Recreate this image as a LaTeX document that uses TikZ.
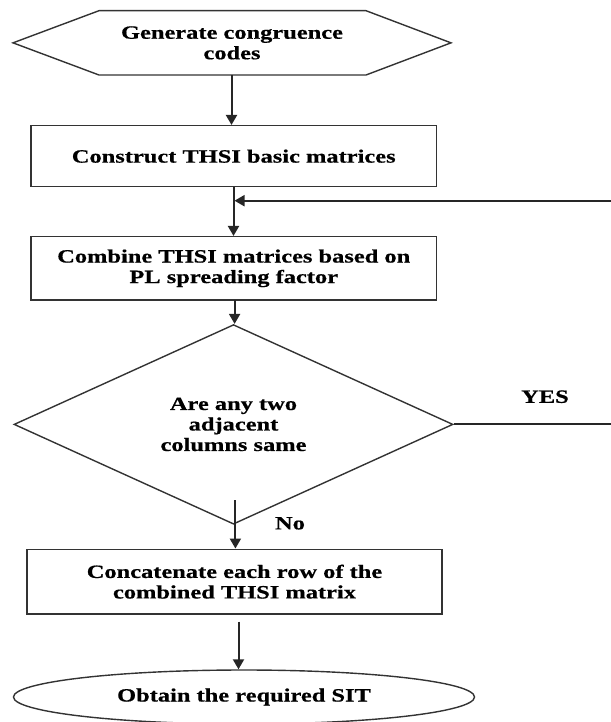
\documentclass[tikz,border=0pt]{standalone}
\usepackage{fontspec}
\setmainfont[FakeStretch=1.3,FakeBold=0.6]{Liberation Serif}
\usetikzlibrary{shapes.geometric,arrows.meta,calc}
\tikzset{
  flowtxt/.style={font=\bfseries\fontsize{18.8}{20.5}\selectfont, align=center, text=black},
  procbox/.style={draw=black!80, line width=1.5pt, rectangle, inner sep=0pt, flowtxt},
  decbox/.style={draw=black!80, line width=1.4pt, diamond, inner sep=0pt, flowtxt},
  termbox/.style={draw=black!80, line width=1.4pt, ellipse, inner sep=0pt, flowtxt},
  flowarr/.style={draw=black!85, line width=2pt, -{Triangle[length=10pt,width=11pt]}},
  flowline/.style={draw=black!85, line width=2pt},
  lbl/.style={flowtxt}
}
\begin{document}
\begin{tikzpicture}[x=1pt,y=-1pt]
\useasboundingbox (0,0) rectangle (610,722);
% hexagon
\node[flowtxt, minimum width=438pt, minimum height=64.3pt, inner sep=0pt] (gen) at (232,42.85) {Generate congruence\\codes};
\draw[black!80, line width=1.4pt] (13,42.85) -- (99,10.7) -- (366,10.7) -- (451,42.85) -- (366,75) -- (99,75) -- cycle;
% boxes
\node[procbox, minimum width=405.5pt, minimum height=61pt] (b1) at (233.75,156.2) {Construct THSI basic matrices};
\node[procbox, minimum width=405.5pt, minimum height=63.3pt] (b2) at (233.75,268.35) {Combine THSI matrices based on\\PL spreading factor};
\node[decbox, minimum width=439pt, minimum height=151pt] (dec) at (233.5,424.4) {Are any two\\adjacent\\columns same};
\node[procbox, minimum width=415pt, minimum height=64.7pt] (b3) at (234.5,581.65) {Concatenate each row of the\\combined THSI matrix};
\node[termbox, minimum width=461pt, minimum height=54pt] (end) at (244,697) {Obtain the required SIT};
% labels
\node[lbl] (yes) at (545,396.7) {YES};
\node[lbl] (no) at (290,523.3) {No};
% coordinates
\coordinate (join) at (233.5,200.7);
\coordinate (fbr) at (612,200.7);
\coordinate (decr) at (612,424.4);
% connectors
\draw[flowarr] (231.5,75) coordinate (g0) -- (g0 |- b1.north);
\draw[flowarr] (233.5,186.7) coordinate (b1s) -- (b1s |- b2.north);
\draw[flowline] (dec.east) -- (decr) -- (fbr);
\draw[flowarr] (fbr) -- ([xshift=1pt]join);
\draw[flowarr] (234.6,300) coordinate (b2s) -- (b2s |- dec.north);
\draw[flowarr] (235.4,500) coordinate (ds) -- (ds |- b3.north);
\draw[flowarr] (238.5,621.7) coordinate (b3s) -- (b3s |- end.north);
\end{tikzpicture}
\end{document}
